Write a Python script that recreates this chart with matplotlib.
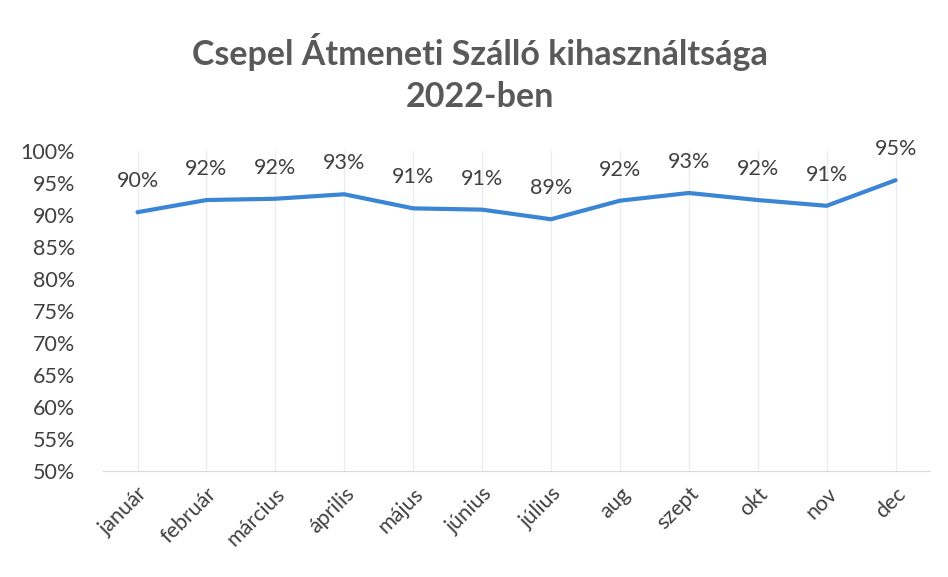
import matplotlib
matplotlib.use("Agg")
import matplotlib.pyplot as plt
from matplotlib.ticker import FuncFormatter, MultipleLocator

months = ["január", "február", "március", "április", "május", "június",
          "július", "aug", "szept", "okt", "nov", "dec"]
occupancy = [90.4, 92.3, 92.5, 93.2, 91.0, 90.8, 89.3, 92.2, 93.4, 92.3, 91.4, 95.4]
title_lines = ["Csepel Átmeneti Szálló kihasználtsága", "2022-ben"]

plt.rcParams['font.family'] = ['Lato', 'DejaVu Sans']
text_col = '#404040'

fig = plt.figure(figsize=(9.48, 5.77), dpi=100)
ax = fig.add_axes([0.1087, 0.1837, 0.8724, 0.5551])

x = list(range(len(months)))
ax.plot(x, occupancy, color='#3a86d4', lw=3, solid_capstyle='round', zorder=3)

for xi, v in zip(x, occupancy):
    ax.annotate(f"{v:.0f}%", (xi, v), xytext=(0, 31), textcoords='offset pixels',
                ha='center', va='center', fontsize=15.5, color=text_col)

ax.set_xlim(-0.5, len(months) - 0.5)
ax.set_ylim(50, 100)
ax.yaxis.set_major_locator(MultipleLocator(5))
ax.yaxis.set_major_formatter(FuncFormatter(lambda v, p: f"{v:.0f}%"))
ax.set_xticks(x)
ax.set_xticklabels(months, rotation=45, ha='right', rotation_mode='anchor')

ax.grid(axis='x', color='#ececec', lw=1)
ax.set_axisbelow(True)
for s in ['top', 'right', 'left']:
    ax.spines[s].set_visible(False)
ax.spines['bottom'].set_color('#d9d9d9')
ax.tick_params(axis='both', length=0, labelsize=15.5, labelcolor=text_col)
ax.tick_params(axis='y', pad=20)
ax.tick_params(axis='x', pad=9)

fig.text(0.506, 1 - 52 / 577, title_lines[0], ha='center', va='center',
         fontsize=24.5, fontweight='bold', color='#595959')
fig.text(0.506, 1 - 97 / 577, title_lines[1], ha='center', va='center',
         fontsize=24.5, fontweight='bold', color='#595959')

fig.savefig("out.png", dpi=100)
